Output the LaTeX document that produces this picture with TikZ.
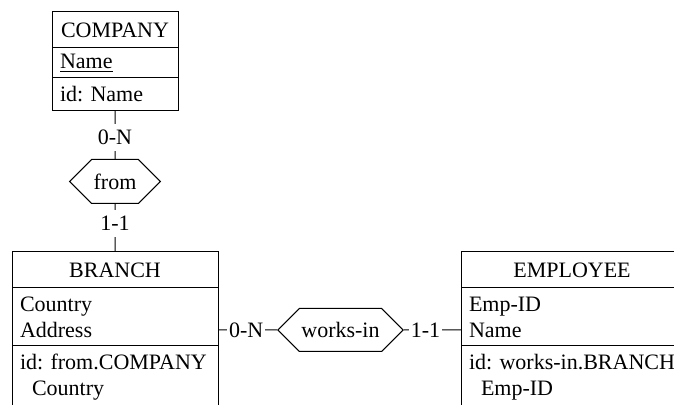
\documentclass[tikz,border=0pt]{standalone}
\usepackage{fontspec}
\setmainfont{Liberation Serif}
\frenchspacing
\usetikzlibrary{positioning,shapes.symbols}

\begin{document}
\begin{tikzpicture}[
    x=1pt, y=1pt,
    node distance=24pt,
    line width=0.5pt,
    every node/.style={font=\fontsize{11}{13}\selectfont},
    ent/.style={
        draw,
        align=center,
        inner sep=0pt,
        outer sep=0pt,
        minimum height=18pt
    },
    att/.style={
        draw,
        align=left,
        inner xsep=4pt,
        inner ysep=1pt,
        outer sep=0pt
    },
    rel/.style={
        draw,
        signal,
        signal to=west and east,
        signal pointer angle=90,
        inner xsep=1pt,
        inner ysep=0pt
    },
    card/.style={fill=white, inner xsep=1pt, inner ysep=3pt},
    line/.style={-}
]
\useasboundingbox (0,0) rectangle (337,-202.5);

% COMPANY
\node[ent, minimum width=63pt] (company) at (57.5,-15) {COMPANY};
\node[att, text width=55pt, minimum height=15pt, below=0pt of company] (companyname)
{\underline{Name}};
\node[att, text width=55pt, minimum height=16.5pt, below=0pt of companyname] (companyid)
{id: Name};

% from
\node[rel, minimum width=45pt, minimum height=22pt, below=of companyid] (from) {from};

% BRANCH
\node[ent, minimum width=103pt, below=of from] (branch) {BRANCH};
\node[att, text width=95pt, minimum height=29pt, below=0pt of branch] (branchatt)
{Country\\Address};
\node[att, text width=95pt, minimum height=31pt, below=0pt of branchatt] (branchid)
{id: from.COMPANY\\\hspace*{6pt}Country};

% works-in
\node[rel, minimum width=62.5pt, minimum height=21.5pt] (worksin) at (170.25,-165) {works-in};

% EMPLOYEE
\node[ent, minimum width=111pt, anchor=north west] (employee) at (230.5,-126) {EMPLOYEE};
\node[att, text width=103pt, minimum height=29pt, below=0pt of employee] (employeeatt)
{Emp-ID\\Name};
\node[att, text width=103pt, minimum height=31pt, below=0pt of employeeatt] (employeeid)
{id: works-in.BRANCH\\\hspace*{6pt}Emp-ID};

% Roles
\draw[line] (companyid) -- node[card, pos=0.55] {0-N} (from);
\draw[line] (from) -- node[card, pos=0.41] {1-1} (branch);
\draw[line] (branchatt.east |- worksin) -- node[card, pos=0.475] {0-N} (worksin);
\draw[line] (worksin) -- node[card, pos=0.38] {1-1} (employeeatt.west |- worksin);

\end{tikzpicture}
\end{document}
